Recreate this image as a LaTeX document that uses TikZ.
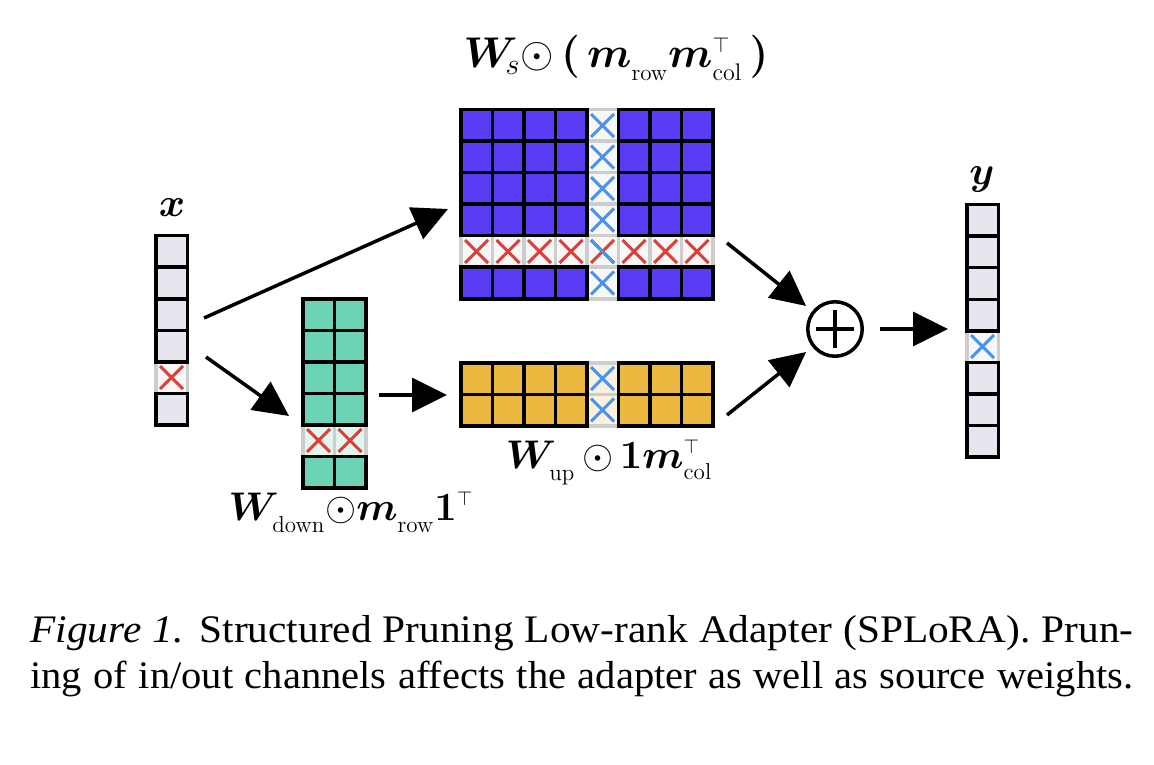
\RequirePackage{fix-cm}
\documentclass[tikz,border=0pt]{standalone}
\usepackage{bm}
\usepackage{fontspec}
\newfontfamily\capfont{Liberation Serif}
\usetikzlibrary{arrows.meta}
\usetikzlibrary{shapes.misc}

\definecolor{wsblue}{HTML}{5A3CF4}
\definecolor{dnteal}{HTML}{6DD3B6}
\definecolor{upyellow}{HTML}{EBB840}
\definecolor{vecgray}{HTML}{E6E6EE}
\definecolor{cutgray}{HTML}{CDCDCD}
\definecolor{cutwhite}{HTML}{F7F7F8}
\definecolor{cutteal}{HTML}{E2F6F0}
\definecolor{cutyellow}{HTML}{FBF0DB}
\definecolor{cutred}{HTML}{D8423A}
\definecolor{cutblue}{HTML}{4C94EA}

% lowered subscript / small superscript
\newcommand{\lsub}[1]{_{\raisebox{-3pt}{\fontsize{11.5pt}{12pt}\selectfont #1}}}
\newcommand{\tsup}{^{\scriptscriptstyle\top}}

\begin{document}
\begin{tikzpicture}[x=0.5pt,y=-0.5pt,
  cell/.style={draw=black, line width=1.75pt, fill=#1, minimum size=15.75pt, inner sep=0pt, outer sep=0pt},
  cutcell/.style={draw=cutgray, line width=1.75pt, fill=#1, minimum size=15.75pt, inner sep=0pt, outer sep=0pt},
  cutmark/.style={cross out, draw=#1, line width=1.5pt, minimum size=10pt, inner sep=0pt},
  arr/.style={line width=1.75pt, -{Triangle[length=17.5pt,width=17pt]}},
  lbl/.style={anchor=base, inner sep=0pt, font=\fontsize{20pt}{22pt}\selectfont},
  capline/.style={anchor=base west, inner sep=0pt, transform shape, font=\capfont\fontsize{19.5pt}{23pt}\selectfont}]
  \useasboundingbox (0,0) rectangle (1154,764);

  %input vector x
  \node[cutcell=cutwhite] (x-4) at (171.5,377.5) {};
  \foreach \r in {0,1,2,3,5}
    \node[cell=vecgray] (x-\r) at (171.5,{251.5+31.5*\r}) {};
  \node[cutmark=cutred] (xm-4) at (x-4) {};
  \node[lbl] (x-lbl) at (172,217) {$\bm{x}$};

  %source weights
  \foreach \c in {0,...,7}
    \node[cutcell=cutwhite] (ws-\c-4) at ({476.5+31.5*\c},251.5) {};
  \foreach \r in {0,1,2,3,5}
    \node[cutcell=cutwhite] (ws-4-\r) at (602.5,{125.5+31.5*\r}) {};
  \foreach \c in {0,1,2,3,5,6,7}
    \foreach \r in {0,1,2,3,5}
      \node[cell=wsblue] (ws-\c-\r) at ({476.5+31.5*\c},{125.5+31.5*\r}) {};
  \foreach \c in {0,...,7}
    \node[cutmark=cutred] (wsm-\c-4) at (ws-\c-4) {};
  \foreach \r in {0,1,2,3,5}
    \node[cutmark=cutblue] (wsm-4-\r) at (ws-4-\r) {};
  \draw[cutblue, line width=1.5pt] (wsm-4-4.north west) -- (wsm-4-4.south east);
  \node[lbl, font=\fontsize{21.5pt}{23pt}\selectfont] (ws-lbl) at (616,68) {$\bm{W}_{\!s}{\odot}\,\bm{(}\,\bm{m}\lsub{row}\bm{m}\tsup_{\raisebox{-1pt}{\fontsize{12pt}{12pt}\selectfont col}}\,\bm{)}$};

  %down projection
  \foreach \c in {0,1}
    \node[cutcell=cutteal] (dn-\c-4) at ({318.5+31.5*\c},440.5) {};
  \foreach \c in {0,1}
    \foreach \r in {0,1,2,3,5}
      \node[cell=dnteal] (dn-\c-\r) at ({318.5+31.5*\c},{314.5+31.5*\r}) {};
  \foreach \c in {0,1}
    \node[cutmark=cutred] (dnm-\c-4) at (dn-\c-4) {};
  \node[lbl] (dn-lbl) at (351,520) {$\bm{W}\lsub{down}{\odot}\bm{m}\lsub{row}\bm{1}\tsup$};

  %up projection
  \foreach \r in {0,1}
    \node[cutcell=cutyellow] (up-4-\r) at (602.5,{378.5+31.5*\r}) {};
  \foreach \c in {0,1,2,3,5,6,7}
    \foreach \r in {0,1}
      \node[cell=upyellow] (up-\c-\r) at ({476.5+31.5*\c},{378.5+31.5*\r}) {};
  \foreach \r in {0,1}
    \node[cutmark=cutblue] (upm-4-\r) at (up-4-\r) {};
  \node[lbl] (up-lbl) at (609,468) {$\bm{W}\lsub{up}\,{\odot}\,\bm{1}\bm{m}\tsup_{\raisebox{-1pt}{\fontsize{11.5pt}{12pt}\selectfont col}}$};

  %output vector y
  \node[cutcell=cutwhite] (y-4) at (982.5,346.5) {};
  \foreach \r in {0,1,2,3,5,6,7}
    \node[cell=vecgray] (y-\r) at (982.5,{220.5+31.5*\r}) {};
  \node[cutmark=cutblue] (ym-4) at (y-4) {};
  \node[lbl] (y-lbl) at (982,185) {$\bm{y}$};

  %sum
  \node[circle, draw, line width=1.75pt, minimum size=27.25pt, inner sep=0pt] (sum) at (835,329) {};
  \draw[line width=1.75pt] ([xshift=-9.4pt]sum.center) -- ([xshift=9.4pt]sum.center);
  \draw[line width=1.75pt] ([yshift=-9.4pt]sum.center) -- ([yshift=9.4pt]sum.center);

  %arrows
  \coordinate (x-a) at (204,318);
  \coordinate (ws-a) at (448,209);
  \coordinate (x-b) at (206,357);
  \coordinate (dn-a) at (289,416);
  \coordinate (dn-b) at (379,395);
  \coordinate (up-a) at (447,395);
  \coordinate (ws-b) at (727,243);
  \coordinate (up-b) at (727,415);
  \coordinate (y-a) at (948,329);
  \draw[arr] (x-a) -- (ws-a);
  \draw[arr] (x-b) -- (dn-a);
  \draw[arr] (dn-b) -- (up-a);
  \draw[arr, shorten >=4pt] (ws-b) -- (sum);
  \draw[arr, shorten >=4pt] (up-b) -- (sum);
  \draw[arr, shorten <=8pt] (sum) -- (y-a);

  %caption
  \node[capline, xscale=1.06] (cap-1) at (30,642) {\makebox[520.3pt][s]{{\itshape Figure 1.} Structured Pruning Low-rank Adapter (SPLoRA). Prun-}};
  \node[capline, xscale=1.04] (cap-2) at (30,688) {\makebox[530.3pt][s]{ing of in/out channels affects the adapter as well as source weights.}};
\end{tikzpicture}
\end{document}
